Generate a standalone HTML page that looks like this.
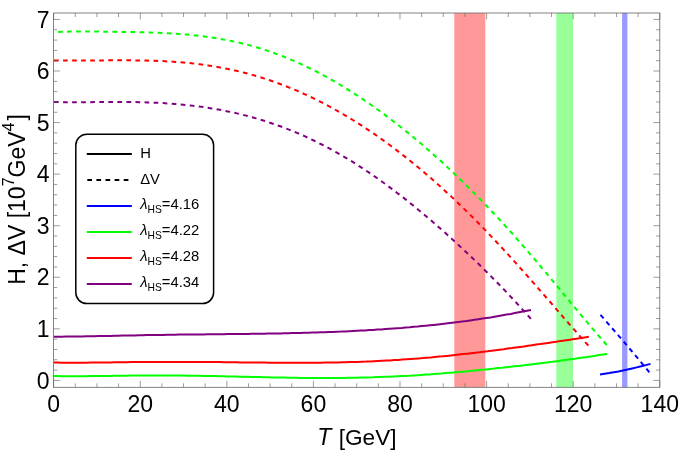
<!DOCTYPE html>
<html><head><meta charset="utf-8"><title>H, ΔV vs T</title>
<style>
html,body{margin:0;padding:0;background:#fff;}
body{width:679px;height:451px;overflow:hidden;font-family:"Liberation Sans",sans-serif;}
svg{display:block;will-change:transform;}
</style></head>
<body>
<svg width="679" height="451" viewBox="0 0 679 451" font-family="'Liberation Sans', sans-serif" font-size="23" fill="#000">
<rect x="0" y="0" width="679" height="451" fill="#fff"/>
<!-- bands -->
<rect x="454.3" y="13.0" width="31" height="374.30" fill="#ff9999"/>
<rect x="556.3" y="13.0" width="16.7" height="374.30" fill="#99ff99"/>
<rect x="622.1" y="13.0" width="5.3" height="374.30" fill="#9999ff"/>
<!-- curves -->
<g fill="none" stroke-width="2" stroke-linejoin="round">
<path d="M600.0,374.6 L604.6,373.8 L609.2,373.1 L613.8,372.2 L618.4,371.4 L623.0,370.4 L627.5,369.5 L632.1,368.5 L636.7,367.4 L641.3,366.3 L645.9,365.1 L650.5,363.9" stroke="#0000ff"/>
<path d="M600.5,314.9 L604.9,320.0 L609.4,325.1 L613.8,330.2 L618.3,335.3 L622.7,340.5 L627.2,345.7 L631.6,351.0 L636.1,356.3 L640.5,361.6 L645.0,367.0 L649.4,372.4" stroke="#0000ff" stroke-dasharray="4.7 4.142"/>
<path d="M53.8,376.1 L57.8,376.1 L61.9,376.2 L65.9,376.2 L70.0,376.2 L74.0,376.2 L78.0,376.2 L82.1,376.2 L86.1,376.2 L90.2,376.1 L94.2,376.1 L98.2,376.0 L102.3,376.0 L106.3,375.9 L110.4,375.9 L114.4,375.8 L118.4,375.8 L122.5,375.7 L126.5,375.7 L130.5,375.6 L134.6,375.6 L138.6,375.6 L142.7,375.5 L146.7,375.5 L150.7,375.5 L154.8,375.5 L158.8,375.5 L162.9,375.5 L166.9,375.5 L170.9,375.5 L175.0,375.5 L179.0,375.6 L183.1,375.6 L187.1,375.7 L191.1,375.7 L195.2,375.8 L199.2,375.8 L203.3,375.9 L207.3,376.0 L211.3,376.0 L215.4,376.1 L219.4,376.2 L223.5,376.3 L227.5,376.4 L231.5,376.5 L235.6,376.6 L239.6,376.7 L243.7,376.7 L247.7,376.8 L251.7,376.9 L255.8,377.0 L259.8,377.1 L263.8,377.2 L267.9,377.3 L271.9,377.4 L276.0,377.5 L280.0,377.5 L284.0,377.6 L288.1,377.7 L292.1,377.8 L296.2,377.8 L300.2,377.9 L304.2,377.9 L308.3,377.9 L312.3,378.0 L316.4,378.0 L320.4,378.0 L324.4,378.0 L328.5,378.0 L332.5,378.0 L336.6,378.0 L340.6,377.9 L344.6,377.9 L348.7,377.8 L352.7,377.8 L356.8,377.7 L360.8,377.6 L364.8,377.5 L368.9,377.4 L372.9,377.3 L377.0,377.1 L381.0,377.0 L385.0,376.8 L389.1,376.7 L393.1,376.5 L397.2,376.3 L401.2,376.1 L405.2,375.9 L409.3,375.7 L413.3,375.4 L417.3,375.2 L421.4,374.9 L425.4,374.6 L429.5,374.4 L433.5,374.1 L437.5,373.8 L441.6,373.5 L445.6,373.1 L449.7,372.8 L453.7,372.5 L457.7,372.1 L461.8,371.7 L465.8,371.4 L469.9,371.0 L473.9,370.6 L477.9,370.2 L482.0,369.8 L486.0,369.4 L490.1,369.0 L494.1,368.6 L498.1,368.1 L502.2,367.7 L506.2,367.2 L510.3,366.8 L514.3,366.3 L518.3,365.9 L522.4,365.4 L526.4,364.9 L530.5,364.4 L534.5,363.9 L538.5,363.4 L542.6,362.9 L546.6,362.4 L550.6,361.9 L554.7,361.4 L558.7,360.9 L562.8,360.3 L566.8,359.8 L570.8,359.2 L574.9,358.7 L578.9,358.1 L583.0,357.5 L587.0,357.0 L591.0,356.4 L595.1,355.8 L599.1,355.1 L603.2,354.5 L607.2,353.9" stroke="#00ff00"/>
<path d="M58.0,31.9 L62.0,31.8 L66.1,31.7 L70.1,31.6 L74.1,31.6 L78.2,31.6 L82.2,31.6 L86.2,31.6 L90.3,31.6 L94.3,31.6 L98.4,31.6 L102.4,31.7 L106.4,31.7 L110.5,31.8 L114.5,31.8 L118.5,31.9 L122.6,31.9 L126.6,32.0 L130.6,32.0 L134.7,32.1 L138.7,32.2 L142.7,32.3 L146.8,32.4 L150.8,32.5 L154.8,32.7 L158.9,32.8 L162.9,33.0 L167.0,33.2 L171.0,33.4 L175.0,33.7 L179.1,34.0 L183.1,34.3 L187.1,34.6 L191.2,35.0 L195.2,35.4 L199.2,35.8 L203.3,36.3 L207.3,36.9 L211.3,37.4 L215.4,38.1 L219.4,38.7 L223.4,39.5 L227.5,40.2 L231.5,41.0 L235.6,41.9 L239.6,42.8 L243.6,43.8 L247.7,44.9 L251.7,45.9 L255.7,47.1 L259.8,48.3 L263.8,49.6 L267.8,50.9 L271.9,52.3 L275.9,53.7 L279.9,55.2 L284.0,56.8 L288.0,58.4 L292.0,60.1 L296.1,61.9 L300.1,63.7 L304.2,65.5 L308.2,67.5 L312.2,69.5 L316.3,71.5 L320.3,73.6 L324.3,75.8 L328.4,78.0 L332.4,80.3 L336.4,82.6 L340.5,85.0 L344.5,87.4 L348.5,89.9 L352.6,92.5 L356.6,95.1 L360.6,97.8 L364.7,100.5 L368.7,103.3 L372.8,106.1 L376.8,109.0 L380.8,111.9 L384.9,114.9 L388.9,117.9 L392.9,121.0 L397.0,124.1 L401.0,127.3 L405.0,130.5 L409.1,133.7 L413.1,137.1 L417.1,140.4 L421.2,143.8 L425.2,147.3 L429.2,150.8 L433.3,154.4 L437.3,158.0 L441.4,161.6 L445.4,165.3 L449.4,169.1 L453.5,172.9 L457.5,176.7 L461.5,180.6 L465.6,184.6 L469.6,188.6 L473.6,192.6 L477.7,196.7 L481.7,200.8 L485.7,205.0 L489.8,209.3 L493.8,213.5 L497.8,217.9 L501.9,222.2 L505.9,226.7 L510.0,231.1 L514.0,235.6 L518.0,240.2 L522.1,244.8 L526.1,249.4 L530.1,254.1 L534.2,258.8 L538.2,263.6 L542.2,268.3 L546.3,273.1 L550.3,278.0 L554.3,282.8 L558.4,287.7 L562.4,292.6 L566.4,297.4 L570.5,302.3 L574.5,307.2 L578.6,312.1 L582.6,316.9 L586.6,321.7 L590.7,326.5 L594.7,331.2 L598.7,335.9 L602.8,340.5 L606.8,345.0" stroke="#00ff00" stroke-dasharray="4.7 4.362"/>
<path d="M53.8,362.6 L57.9,362.6 L61.9,362.7 L66.0,362.7 L70.0,362.7 L74.1,362.7 L78.1,362.7 L82.2,362.7 L86.2,362.7 L90.3,362.6 L94.3,362.6 L98.4,362.6 L102.4,362.5 L106.5,362.4 L110.5,362.4 L114.6,362.3 L118.6,362.3 L122.7,362.2 L126.8,362.2 L130.8,362.1 L134.9,362.1 L138.9,362.1 L143.0,362.0 L147.0,362.0 L151.1,361.9 L155.1,361.9 L159.2,361.9 L163.2,361.9 L167.3,361.9 L171.3,361.9 L175.4,361.9 L179.4,361.9 L183.5,361.9 L187.6,361.9 L191.6,361.9 L195.7,361.9 L199.7,362.0 L203.8,362.0 L207.8,362.0 L211.9,362.0 L215.9,362.1 L220.0,362.1 L224.0,362.2 L228.1,362.2 L232.1,362.3 L236.2,362.3 L240.2,362.4 L244.3,362.4 L248.3,362.4 L252.4,362.5 L256.5,362.5 L260.5,362.6 L264.6,362.6 L268.6,362.7 L272.7,362.7 L276.7,362.7 L280.8,362.7 L284.8,362.8 L288.9,362.8 L292.9,362.8 L297.0,362.8 L301.0,362.8 L305.1,362.8 L309.1,362.8 L313.2,362.7 L317.2,362.7 L321.3,362.7 L325.4,362.6 L329.4,362.6 L333.5,362.5 L337.5,362.4 L341.6,362.3 L345.6,362.2 L349.7,362.1 L353.7,362.0 L357.8,361.9 L361.8,361.7 L365.9,361.6 L369.9,361.4 L374.0,361.2 L378.0,361.0 L382.1,360.8 L386.1,360.6 L390.2,360.4 L394.3,360.1 L398.3,359.9 L402.4,359.6 L406.4,359.3 L410.5,359.0 L414.5,358.7 L418.6,358.4 L422.6,358.1 L426.7,357.7 L430.7,357.4 L434.8,357.0 L438.8,356.6 L442.9,356.3 L446.9,355.9 L451.0,355.4 L455.1,355.0 L459.1,354.6 L463.2,354.1 L467.2,353.7 L471.3,353.2 L475.3,352.7 L479.4,352.3 L483.4,351.8 L487.5,351.3 L491.5,350.7 L495.6,350.2 L499.6,349.7 L503.7,349.2 L507.7,348.6 L511.8,348.1 L515.8,347.5 L519.9,346.9 L524.0,346.4 L528.0,345.8 L532.1,345.2 L536.1,344.6 L540.2,344.1 L544.2,343.5 L548.3,342.9 L552.3,342.3 L556.4,341.7 L560.4,341.1 L564.5,340.5 L568.5,339.9 L572.6,339.3 L576.6,338.7 L580.7,338.1 L584.7,337.4 L588.8,336.8" stroke="#ff0000"/>
<path d="M54.0,60.4 L58.0,60.4 L62.1,60.5 L66.1,60.5 L70.2,60.5 L74.2,60.5 L78.3,60.5 L82.3,60.5 L86.4,60.5 L90.4,60.5 L94.5,60.5 L98.5,60.4 L102.6,60.4 L106.6,60.4 L110.7,60.3 L114.7,60.3 L118.8,60.3 L122.8,60.3 L126.9,60.3 L130.9,60.3 L135.0,60.4 L139.0,60.4 L143.1,60.5 L147.1,60.6 L151.2,60.7 L155.2,60.8 L159.3,61.0 L163.3,61.1 L167.4,61.4 L171.4,61.6 L175.5,61.9 L179.5,62.2 L183.6,62.5 L187.6,62.9 L191.6,63.3 L195.7,63.8 L199.7,64.3 L203.8,64.8 L207.8,65.4 L211.9,66.0 L215.9,66.7 L220.0,67.4 L224.0,68.2 L228.1,69.0 L232.1,69.9 L236.2,70.8 L240.2,71.7 L244.3,72.7 L248.3,73.8 L252.4,74.9 L256.4,76.1 L260.5,77.3 L264.5,78.6 L268.6,79.9 L272.6,81.3 L276.7,82.7 L280.7,84.2 L284.8,85.8 L288.8,87.4 L292.9,89.0 L296.9,90.7 L301.0,92.5 L305.0,94.3 L309.1,96.2 L313.1,98.1 L317.2,100.1 L321.2,102.2 L325.2,104.3 L329.3,106.4 L333.3,108.6 L337.4,110.9 L341.4,113.2 L345.5,115.6 L349.5,118.0 L353.6,120.5 L357.6,123.0 L361.7,125.6 L365.7,128.3 L369.8,131.0 L373.8,133.7 L377.9,136.5 L381.9,139.4 L386.0,142.3 L390.0,145.3 L394.1,148.3 L398.1,151.4 L402.2,154.5 L406.2,157.7 L410.3,160.9 L414.3,164.2 L418.4,167.5 L422.4,170.9 L426.5,174.4 L430.5,177.8 L434.6,181.4 L438.6,185.0 L442.7,188.6 L446.7,192.4 L450.8,196.1 L454.8,199.9 L458.8,203.8 L462.9,207.7 L466.9,211.6 L471.0,215.6 L475.0,219.7 L479.1,223.8 L483.1,227.9 L487.2,232.1 L491.2,236.4 L495.3,240.7 L499.3,245.0 L503.4,249.4 L507.4,253.8 L511.5,258.2 L515.5,262.7 L519.6,267.2 L523.6,271.7 L527.7,276.3 L531.7,280.9 L535.8,285.5 L539.8,290.2 L543.9,294.8 L547.9,299.5 L552.0,304.1 L556.0,308.8 L560.1,313.5 L564.1,318.2 L568.2,322.8 L572.2,327.4 L576.3,332.0 L580.3,336.6 L584.4,341.1 L588.4,345.6" stroke="#ff0000" stroke-dasharray="4.7 4.342"/>
<path d="M53.8,336.7 L57.8,336.7 L61.9,336.7 L65.9,336.6 L70.0,336.6 L74.0,336.5 L78.1,336.5 L82.1,336.4 L86.2,336.3 L90.2,336.3 L94.2,336.2 L98.3,336.1 L102.3,336.0 L106.4,335.9 L110.4,335.9 L114.5,335.8 L118.5,335.7 L122.5,335.6 L126.6,335.5 L130.6,335.4 L134.7,335.4 L138.7,335.3 L142.8,335.2 L146.8,335.1 L150.9,335.1 L154.9,335.0 L158.9,334.9 L163.0,334.9 L167.0,334.8 L171.1,334.8 L175.1,334.7 L179.2,334.6 L183.2,334.6 L187.3,334.5 L191.3,334.5 L195.3,334.5 L199.4,334.4 L203.4,334.4 L207.5,334.3 L211.5,334.3 L215.6,334.2 L219.6,334.2 L223.7,334.2 L227.7,334.1 L231.7,334.1 L235.8,334.0 L239.8,334.0 L243.9,333.9 L247.9,333.9 L252.0,333.8 L256.0,333.8 L260.0,333.7 L264.1,333.7 L268.1,333.6 L272.2,333.5 L276.2,333.5 L280.3,333.4 L284.3,333.3 L288.4,333.2 L292.4,333.1 L296.4,333.0 L300.5,332.9 L304.5,332.8 L308.6,332.7 L312.6,332.6 L316.7,332.5 L320.7,332.3 L324.8,332.2 L328.8,332.0 L332.8,331.9 L336.9,331.7 L340.9,331.6 L345.0,331.4 L349.0,331.2 L353.1,331.0 L357.1,330.8 L361.1,330.6 L365.2,330.4 L369.2,330.1 L373.3,329.9 L377.3,329.6 L381.4,329.4 L385.4,329.1 L389.5,328.8 L393.5,328.5 L397.5,328.2 L401.6,327.9 L405.6,327.5 L409.7,327.2 L413.7,326.8 L417.8,326.5 L421.8,326.1 L425.9,325.7 L429.9,325.3 L433.9,324.9 L438.0,324.4 L442.0,324.0 L446.1,323.5 L450.1,323.0 L454.2,322.5 L458.2,322.0 L462.3,321.5 L466.3,321.0 L470.3,320.4 L474.4,319.8 L478.4,319.2 L482.5,318.6 L486.5,318.0 L490.6,317.4 L494.6,316.7 L498.6,316.0 L502.7,315.3 L506.7,314.6 L510.8,313.9 L514.8,313.1 L518.9,312.3 L522.9,311.5 L527.0,310.7 L531.0,309.9" stroke="#800080"/>
<path d="M54.0,101.9 L58.0,102.1 L62.1,102.2 L66.1,102.2 L70.2,102.3 L74.2,102.3 L78.2,102.3 L82.3,102.2 L86.3,102.2 L90.4,102.2 L94.4,102.1 L98.5,102.1 L102.5,102.0 L106.5,102.0 L110.6,102.0 L114.6,102.0 L118.7,102.0 L122.7,102.0 L126.7,102.0 L130.8,102.0 L134.8,102.1 L138.9,102.2 L142.9,102.2 L147.0,102.4 L151.0,102.5 L155.0,102.7 L159.1,102.9 L163.1,103.1 L167.2,103.4 L171.2,103.6 L175.2,104.0 L179.3,104.3 L183.3,104.7 L187.4,105.1 L191.4,105.6 L195.5,106.0 L199.5,106.6 L203.5,107.1 L207.6,107.7 L211.6,108.4 L215.7,109.1 L219.7,109.8 L223.7,110.6 L227.8,111.4 L231.8,112.2 L235.9,113.1 L239.9,114.1 L244.0,115.1 L248.0,116.1 L252.0,117.2 L256.1,118.4 L260.1,119.6 L264.2,120.8 L268.2,122.1 L272.2,123.5 L276.3,124.9 L280.3,126.3 L284.4,127.8 L288.4,129.4 L292.4,131.0 L296.5,132.7 L300.5,134.4 L304.6,136.2 L308.6,138.1 L312.7,140.0 L316.7,141.9 L320.7,144.0 L324.8,146.0 L328.8,148.2 L332.9,150.4 L336.9,152.6 L340.9,154.9 L345.0,157.3 L349.0,159.7 L353.1,162.2 L357.1,164.8 L361.2,167.4 L365.2,170.0 L369.2,172.7 L373.3,175.5 L377.3,178.3 L381.4,181.2 L385.4,184.1 L389.4,187.1 L393.5,190.1 L397.5,193.2 L401.6,196.3 L405.6,199.4 L409.7,202.7 L413.7,205.9 L417.7,209.2 L421.8,212.6 L425.8,216.0 L429.9,219.4 L433.9,222.9 L437.9,226.4 L442.0,230.0 L446.0,233.6 L450.1,237.2 L454.1,240.9 L458.2,244.7 L462.2,248.4 L466.2,252.2 L470.3,256.0 L474.3,259.9 L478.4,263.8 L482.4,267.8 L486.4,271.8 L490.5,275.8 L494.5,279.9 L498.6,284.0 L502.6,288.2 L506.7,292.4 L510.7,296.7 L514.7,301.0 L518.8,305.4 L522.8,309.8 L526.9,314.3 L530.9,318.9" stroke="#800080" stroke-dasharray="4.7 4.357"/>
</g>
<!-- frame + ticks -->
<g stroke="#666666" stroke-width="0.8" fill="none">
<rect x="53.5" y="13.0" width="606.30" height="374.30"/>
<g stroke-width="0.65"><line x1="53.65" y1="387.3" x2="53.65" y2="380.90"/><line x1="53.65" y1="13.0" x2="53.65" y2="19.40"/><line x1="75.30" y1="387.3" x2="75.30" y2="383.30"/><line x1="75.30" y1="13.0" x2="75.30" y2="17.00"/><line x1="96.94" y1="387.3" x2="96.94" y2="383.30"/><line x1="96.94" y1="13.0" x2="96.94" y2="17.00"/><line x1="118.59" y1="387.3" x2="118.59" y2="383.30"/><line x1="118.59" y1="13.0" x2="118.59" y2="17.00"/><line x1="140.24" y1="387.3" x2="140.24" y2="380.90"/><line x1="140.24" y1="13.0" x2="140.24" y2="19.40"/><line x1="161.88" y1="387.3" x2="161.88" y2="383.30"/><line x1="161.88" y1="13.0" x2="161.88" y2="17.00"/><line x1="183.53" y1="387.3" x2="183.53" y2="383.30"/><line x1="183.53" y1="13.0" x2="183.53" y2="17.00"/><line x1="205.18" y1="387.3" x2="205.18" y2="383.30"/><line x1="205.18" y1="13.0" x2="205.18" y2="17.00"/><line x1="226.82" y1="387.3" x2="226.82" y2="380.90"/><line x1="226.82" y1="13.0" x2="226.82" y2="19.40"/><line x1="248.47" y1="387.3" x2="248.47" y2="383.30"/><line x1="248.47" y1="13.0" x2="248.47" y2="17.00"/><line x1="270.11" y1="387.3" x2="270.11" y2="383.30"/><line x1="270.11" y1="13.0" x2="270.11" y2="17.00"/><line x1="291.76" y1="387.3" x2="291.76" y2="383.30"/><line x1="291.76" y1="13.0" x2="291.76" y2="17.00"/><line x1="313.41" y1="387.3" x2="313.41" y2="380.90"/><line x1="313.41" y1="13.0" x2="313.41" y2="19.40"/><line x1="335.05" y1="387.3" x2="335.05" y2="383.30"/><line x1="335.05" y1="13.0" x2="335.05" y2="17.00"/><line x1="356.70" y1="387.3" x2="356.70" y2="383.30"/><line x1="356.70" y1="13.0" x2="356.70" y2="17.00"/><line x1="378.35" y1="387.3" x2="378.35" y2="383.30"/><line x1="378.35" y1="13.0" x2="378.35" y2="17.00"/><line x1="399.99" y1="387.3" x2="399.99" y2="380.90"/><line x1="399.99" y1="13.0" x2="399.99" y2="19.40"/><line x1="421.64" y1="387.3" x2="421.64" y2="383.30"/><line x1="421.64" y1="13.0" x2="421.64" y2="17.00"/><line x1="443.29" y1="387.3" x2="443.29" y2="383.30"/><line x1="443.29" y1="13.0" x2="443.29" y2="17.00"/><line x1="464.93" y1="387.3" x2="464.93" y2="383.30"/><line x1="464.93" y1="13.0" x2="464.93" y2="17.00"/><line x1="486.58" y1="387.3" x2="486.58" y2="380.90"/><line x1="486.58" y1="13.0" x2="486.58" y2="19.40"/><line x1="508.22" y1="387.3" x2="508.22" y2="383.30"/><line x1="508.22" y1="13.0" x2="508.22" y2="17.00"/><line x1="529.87" y1="387.3" x2="529.87" y2="383.30"/><line x1="529.87" y1="13.0" x2="529.87" y2="17.00"/><line x1="551.52" y1="387.3" x2="551.52" y2="383.30"/><line x1="551.52" y1="13.0" x2="551.52" y2="17.00"/><line x1="573.16" y1="387.3" x2="573.16" y2="380.90"/><line x1="573.16" y1="13.0" x2="573.16" y2="19.40"/><line x1="594.81" y1="387.3" x2="594.81" y2="383.30"/><line x1="594.81" y1="13.0" x2="594.81" y2="17.00"/><line x1="616.46" y1="387.3" x2="616.46" y2="383.30"/><line x1="616.46" y1="13.0" x2="616.46" y2="17.00"/><line x1="638.10" y1="387.3" x2="638.10" y2="383.30"/><line x1="638.10" y1="13.0" x2="638.10" y2="17.00"/><line x1="659.75" y1="387.3" x2="659.75" y2="380.90"/><line x1="659.75" y1="13.0" x2="659.75" y2="19.40"/><line x1="53.5" y1="380.40" x2="59.90" y2="380.40"/><line x1="659.8" y1="380.40" x2="653.40" y2="380.40"/><line x1="53.5" y1="370.09" x2="57.30" y2="370.09"/><line x1="659.8" y1="370.09" x2="656.00" y2="370.09"/><line x1="53.5" y1="359.77" x2="57.30" y2="359.77"/><line x1="659.8" y1="359.77" x2="656.00" y2="359.77"/><line x1="53.5" y1="349.46" x2="57.30" y2="349.46"/><line x1="659.8" y1="349.46" x2="656.00" y2="349.46"/><line x1="53.5" y1="339.15" x2="57.30" y2="339.15"/><line x1="659.8" y1="339.15" x2="656.00" y2="339.15"/><line x1="53.5" y1="328.84" x2="59.90" y2="328.84"/><line x1="659.8" y1="328.84" x2="653.40" y2="328.84"/><line x1="53.5" y1="318.52" x2="57.30" y2="318.52"/><line x1="659.8" y1="318.52" x2="656.00" y2="318.52"/><line x1="53.5" y1="308.21" x2="57.30" y2="308.21"/><line x1="659.8" y1="308.21" x2="656.00" y2="308.21"/><line x1="53.5" y1="297.90" x2="57.30" y2="297.90"/><line x1="659.8" y1="297.90" x2="656.00" y2="297.90"/><line x1="53.5" y1="287.58" x2="57.30" y2="287.58"/><line x1="659.8" y1="287.58" x2="656.00" y2="287.58"/><line x1="53.5" y1="277.27" x2="59.90" y2="277.27"/><line x1="659.8" y1="277.27" x2="653.40" y2="277.27"/><line x1="53.5" y1="266.96" x2="57.30" y2="266.96"/><line x1="659.8" y1="266.96" x2="656.00" y2="266.96"/><line x1="53.5" y1="256.65" x2="57.30" y2="256.65"/><line x1="659.8" y1="256.65" x2="656.00" y2="256.65"/><line x1="53.5" y1="246.33" x2="57.30" y2="246.33"/><line x1="659.8" y1="246.33" x2="656.00" y2="246.33"/><line x1="53.5" y1="236.02" x2="57.30" y2="236.02"/><line x1="659.8" y1="236.02" x2="656.00" y2="236.02"/><line x1="53.5" y1="225.71" x2="59.90" y2="225.71"/><line x1="659.8" y1="225.71" x2="653.40" y2="225.71"/><line x1="53.5" y1="215.39" x2="57.30" y2="215.39"/><line x1="659.8" y1="215.39" x2="656.00" y2="215.39"/><line x1="53.5" y1="205.08" x2="57.30" y2="205.08"/><line x1="659.8" y1="205.08" x2="656.00" y2="205.08"/><line x1="53.5" y1="194.77" x2="57.30" y2="194.77"/><line x1="659.8" y1="194.77" x2="656.00" y2="194.77"/><line x1="53.5" y1="184.46" x2="57.30" y2="184.46"/><line x1="659.8" y1="184.46" x2="656.00" y2="184.46"/><line x1="53.5" y1="174.14" x2="59.90" y2="174.14"/><line x1="659.8" y1="174.14" x2="653.40" y2="174.14"/><line x1="53.5" y1="163.83" x2="57.30" y2="163.83"/><line x1="659.8" y1="163.83" x2="656.00" y2="163.83"/><line x1="53.5" y1="153.52" x2="57.30" y2="153.52"/><line x1="659.8" y1="153.52" x2="656.00" y2="153.52"/><line x1="53.5" y1="143.20" x2="57.30" y2="143.20"/><line x1="659.8" y1="143.20" x2="656.00" y2="143.20"/><line x1="53.5" y1="132.89" x2="57.30" y2="132.89"/><line x1="659.8" y1="132.89" x2="656.00" y2="132.89"/><line x1="53.5" y1="122.58" x2="59.90" y2="122.58"/><line x1="659.8" y1="122.58" x2="653.40" y2="122.58"/><line x1="53.5" y1="112.27" x2="57.30" y2="112.27"/><line x1="659.8" y1="112.27" x2="656.00" y2="112.27"/><line x1="53.5" y1="101.95" x2="57.30" y2="101.95"/><line x1="659.8" y1="101.95" x2="656.00" y2="101.95"/><line x1="53.5" y1="91.64" x2="57.30" y2="91.64"/><line x1="659.8" y1="91.64" x2="656.00" y2="91.64"/><line x1="53.5" y1="81.33" x2="57.30" y2="81.33"/><line x1="659.8" y1="81.33" x2="656.00" y2="81.33"/><line x1="53.5" y1="71.01" x2="59.90" y2="71.01"/><line x1="659.8" y1="71.01" x2="653.40" y2="71.01"/><line x1="53.5" y1="60.70" x2="57.30" y2="60.70"/><line x1="659.8" y1="60.70" x2="656.00" y2="60.70"/><line x1="53.5" y1="50.39" x2="57.30" y2="50.39"/><line x1="659.8" y1="50.39" x2="656.00" y2="50.39"/><line x1="53.5" y1="40.08" x2="57.30" y2="40.08"/><line x1="659.8" y1="40.08" x2="656.00" y2="40.08"/><line x1="53.5" y1="29.76" x2="57.30" y2="29.76"/><line x1="659.8" y1="29.76" x2="656.00" y2="29.76"/><line x1="53.5" y1="19.45" x2="59.90" y2="19.45"/><line x1="659.8" y1="19.45" x2="653.40" y2="19.45"/></g>
</g>
<!-- tick labels -->
<g><text x="53.6" y="412" text-anchor="middle">0</text><text x="140.2" y="412" text-anchor="middle">20</text><text x="226.8" y="412" text-anchor="middle">40</text><text x="313.4" y="412" text-anchor="middle">60</text><text x="400.0" y="412" text-anchor="middle">80</text><text x="486.6" y="412" text-anchor="middle">100</text><text x="573.2" y="412" text-anchor="middle">120</text><text x="659.8" y="412" text-anchor="middle">140</text></g>
<g><text x="49.6" y="388.5" text-anchor="end">0</text><text x="49.6" y="336.9" text-anchor="end">1</text><text x="49.6" y="285.4" text-anchor="end">2</text><text x="49.6" y="233.8" text-anchor="end">3</text><text x="49.6" y="182.2" text-anchor="end">4</text><text x="49.6" y="130.7" text-anchor="end">5</text><text x="49.6" y="79.1" text-anchor="end">6</text><text x="49.6" y="27.5" text-anchor="end">7</text></g>
<!-- axis labels -->
<text x="317.3" y="445.1"><tspan font-style="italic">T</tspan><tspan dx="1.1" font-size="22.6"> [GeV]</tspan></text>
<text transform="translate(24.8,284.8) rotate(-90)">H, ΔV [10<tspan font-size="16" dy="-11">7</tspan><tspan dy="11">GeV</tspan><tspan font-size="16" dy="-11">4</tspan><tspan dy="11" dx="2">]</tspan></text>
<!-- legend -->
<g><rect x="75.8" y="134.2" width="137.8" height="169.4" rx="11" ry="11" fill="#fff" stroke="#000" stroke-width="1.5"/><line x1="86.8" y1="153.9" x2="131.8" y2="153.9" stroke="#000" stroke-width="2"/><line x1="87.3" y1="179.9" x2="128.5" y2="179.9" stroke="#000" stroke-width="2" stroke-dasharray="4.7 4.4"/><line x1="86.8" y1="205.9" x2="131.8" y2="205.9" stroke="#0000ff" stroke-width="2"/><line x1="86.8" y1="231.9" x2="131.8" y2="231.9" stroke="#00ff00" stroke-width="2"/><line x1="86.8" y1="257.9" x2="131.8" y2="257.9" stroke="#ff0000" stroke-width="2"/><line x1="86.8" y1="283.9" x2="131.8" y2="283.9" stroke="#800080" stroke-width="2"/><text x="140.2" y="158.3" font-size="14.8">H</text><text x="140.2" y="183.8" font-size="14.8">ΔV</text><text x="140.2" y="209.3" font-size="14.8"><tspan font-style="italic">λ</tspan><tspan font-size="10.3" dy="3.2">HS</tspan><tspan dy="-3.2">=4.16</tspan></text><text x="140.2" y="235.3" font-size="14.8"><tspan font-style="italic">λ</tspan><tspan font-size="10.3" dy="3.2">HS</tspan><tspan dy="-3.2">=4.22</tspan></text><text x="140.2" y="261.3" font-size="14.8"><tspan font-style="italic">λ</tspan><tspan font-size="10.3" dy="3.2">HS</tspan><tspan dy="-3.2">=4.28</tspan></text><text x="140.2" y="287.3" font-size="14.8"><tspan font-style="italic">λ</tspan><tspan font-size="10.3" dy="3.2">HS</tspan><tspan dy="-3.2">=4.34</tspan></text></g>
</svg>
</body></html>
